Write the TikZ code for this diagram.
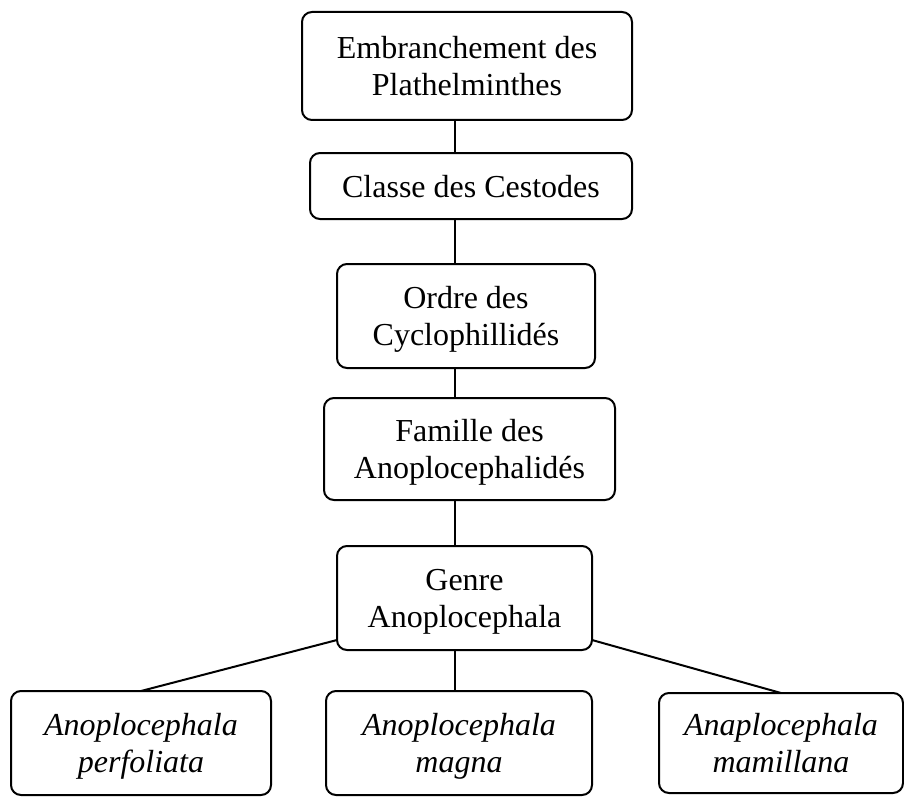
\documentclass[tikz,border=0pt]{standalone}
\usepackage{fontspec}
\setmainfont{Liberation Serif}
\usetikzlibrary{positioning}

\begin{document}
\begin{tikzpicture}[
  font=\fontsize{16pt}{18.5pt}\selectfont,
  box/.style={draw,line width=1pt,rounded corners=5pt,align=center,inner sep=0pt,outer sep=0pt,text depth=0pt},
  sp/.style={box,font=\fontsize{16pt}{18.5pt}\selectfont\itshape},
  link/.style={line width=1pt}
]
\useasboundingbox (0,0) rectangle (452pt,-398.5pt);

% --- Nodes (chain of ranks) ---
\node[box,minimum width=165pt,minimum height=54pt] (emb) at (233.5pt,-33pt) {Embranchement des\\Plathelminthes};
\node[box,minimum width=161pt,minimum height=33pt,below=16.5pt of emb,xshift=2pt]   (cls)    {Classe des Cestodes};
\node[box,minimum width=129pt,minimum height=52pt,below=22.5pt of cls,xshift=-2.5pt] (ordre)  {Ordre des\\Cyclophillidés};
\node[box,minimum width=145.5pt,minimum height=51pt,below=15pt of ordre,xshift=1.75pt] (fam) {Famille des\\Anoplocephalidés};
\node[box,minimum width=127.5pt,minimum height=52pt,below=23pt of fam,xshift=-2.5pt] (genre)  {Genre\\Anoplocephala};

% --- Species ---
\node[sp,minimum width=133pt,minimum height=52pt,below=20.5pt of genre,xshift=-2.75pt] (magna) {Anoplocephala\\magna};
\node[sp,minimum width=130pt,minimum height=52pt,left=27.5pt of magna]  (perf) {Anoplocephala\\perfoliata};
\node[sp,minimum width=122pt,minimum height=50pt,right=33.5pt of magna] (mam)  {Anaplocephala\\mamillana};

% --- Links ---
\coordinate (axis) at (227.5pt,0);
\draw[link] (emb.south -| axis)   -- (cls.north -| axis);
\draw[link] (cls.south -| axis)   -- (ordre.north -| axis);
\draw[link] (ordre.south -| axis) -- (fam.north -| axis);
\draw[link] (fam.south -| axis)   -- (genre.north -| axis);
\draw[link] (genre.south -| axis) -- (magna.north -| axis);
\draw[link] ([yshift=5pt]genre.south west) -- (perf.north);
\draw[link] ([yshift=5pt]genre.south east) -- (mam.north);
\end{tikzpicture}
\end{document}
